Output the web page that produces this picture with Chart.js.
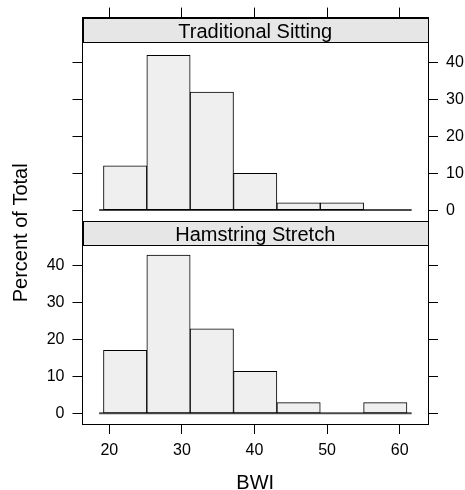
<!DOCTYPE html>
<html>
<head>
<meta charset="utf-8">
<title>BWI by stretching position</title>
<script src="https://cdn.jsdelivr.net/npm/chart.js@4"></script>
<style>
  html, body { margin: 0; padding: 0; background: #fff; }
  #wrap { width: 465px; height: 490px; }
</style>
</head>
<body>
<div id="wrap"><canvas id="bwi" width="465" height="490"></canvas></div>
<script>
// BWI bin edges and the percent of subjects falling in each bin
const breaks = [19.2, 25.17, 31.14, 37.11, 43.09, 49.06, 55.03, 61.0];
const sittingPct = [12, 42, 32, 10, 2, 2, 0];
const stretchPct = [17.1, 42.9, 22.9, 11.4, 2.9, 0, 2.9];
const panelNames = ["Traditional Sitting", "Hamstring Stretch"];
const xTicks = [20, 30, 40, 50, 60];
const yTicks = [0, 10, 20, 30, 40];

// zero reference line under the bars
const refSpan = [18.6, 61.65];

const FONT = "'Liberation Sans', Arial, Helvetica, sans-serif";
const STRIP_H = 24;

const centers = breaks.slice(0, -1).map((b, i) => (b + breaks[i + 1]) / 2);
const toPoints = pct => pct.map((v, i) => ({ x: centers[i], y: v }));

const tickGrid = { display: true, drawOnChartArea: false, drawTicks: true, tickLength: 10, color: '#000', lineWidth: 1 };
const frame = { display: true, color: '#000', width: 1 };

function yAxis(pos, showLabels) {
  return {
    type: 'linear',
    position: pos,
    stack: 'panels-' + pos,
    stackWeight: 1,
    min: -2.9,
    max: 52.2,  // headroom above 45.8 is taken by the strip
    afterBuildTicks: s => { s.ticks = yTicks.map(v => ({ value: v })); },
    afterFit: s => { s.width = pos === 'left' ? 82.5 : 37; },
    grid: tickGrid,
    border: frame,
    ticks: {
      color: '#000',
      padding: 8,
      font: { family: FONT, size: 16 },
      callback: v => showLabels ? String(v) : ''
    }
  };
}

function xAxis(pos, showLabels) {
  return {
    type: 'linear',
    position: pos,
    offset: false,
    min: 16.31,
    max: 63.9,
    afterBuildTicks: s => { s.ticks = xTicks.map(v => ({ value: v })); },
    afterFit: s => { s.height = pos === 'bottom' ? 66 : 17; },
    grid: Object.assign({}, tickGrid, { offset: false }),
    border: frame,
    ticks: {
      color: '#000',
      padding: 7,
      maxRotation: 0,
      font: { family: FONT, size: 16 },
      callback: v => showLabels ? String(v) : ''
    }
  };
}

const panelDecor = {
  id: 'panelDecor',
  beforeDatasetsDraw(chart) {
    const { ctx, scales } = chart;
    ctx.save();
    ctx.strokeStyle = '#4a4a4a';
    ctx.lineWidth = 2;
    for (const id of ['yTop', 'yBot']) {
      const y0 = scales[id].getPixelForValue(0);
      ctx.beginPath();
      ctx.moveTo(scales.x.getPixelForValue(refSpan[0]), y0);
      ctx.lineTo(scales.x.getPixelForValue(refSpan[1]), y0);
      ctx.stroke();
    }
    ctx.restore();
  },
  afterDatasetsDraw(chart) {
    const { ctx, chartArea: a, scales } = chart;
    ctx.save();
    ['yTop', 'yBot'].forEach((id, i) => {
      const top = Math.round(scales[id].top) + 0.5;
      const left = Math.round(a.left) + 0.5;
      const w = Math.round(a.right) - Math.round(a.left);
      ctx.fillStyle = '#e6e6e6';
      ctx.fillRect(left, top, w, STRIP_H);
      ctx.strokeStyle = '#000';
      ctx.lineWidth = 1;
      ctx.strokeRect(left, top, w, STRIP_H);
      ctx.fillStyle = '#000';
      ctx.font = '20px ' + FONT;
      ctx.textAlign = 'center';
      ctx.textBaseline = 'alphabetic';
      ctx.fillText(panelNames[i], (a.left + a.right) / 2, top + 19);
    });
    ctx.restore();
  },
  afterDraw(chart) {
    const { ctx, chartArea: a, scales } = chart;
    ctx.save();
    ctx.fillStyle = '#000';
    ctx.font = '20px ' + FONT;
    ctx.textAlign = 'center';
    ctx.textBaseline = 'alphabetic';
    ctx.fillText('BWI', (a.left + a.right) / 2, 488.5);
    const midY = (scales.yTop.top + STRIP_H + a.bottom) / 2;
    ctx.translate(27, midY);
    ctx.rotate(-Math.PI / 2);
    ctx.fillText('Percent of Total', 0, 0);
    ctx.restore();
  }
};

const barStyle = {
  backgroundColor: '#efefef',
  borderColor: '#000',
  borderWidth: 1,
  borderSkipped: false,
  barPercentage: 1,
  categoryPercentage: 1,
  grouped: false
};

new Chart(document.getElementById('bwi'), {
  type: 'bar',
  data: {
    datasets: [
      Object.assign({ label: panelNames[0], data: toPoints(sittingPct), yAxisID: 'yTop' }, barStyle),
      Object.assign({ label: panelNames[1], data: toPoints(stretchPct), yAxisID: 'yBot' }, barStyle)
    ]
  },
  options: {
    responsive: false,
    animation: false,
    layout: { padding: 0 },
    plugins: { legend: { display: false }, tooltip: { enabled: false } },
    scales: {
      x: xAxis('bottom', true),
      x2: xAxis('top', false),
      yBot: yAxis('left', true),
      yTop: yAxis('left', false),
      yTopR: yAxis('right', true),
      yBotR: yAxis('right', false)
    }
  },
  plugins: [panelDecor]
});
</script>
</body>
</html>
